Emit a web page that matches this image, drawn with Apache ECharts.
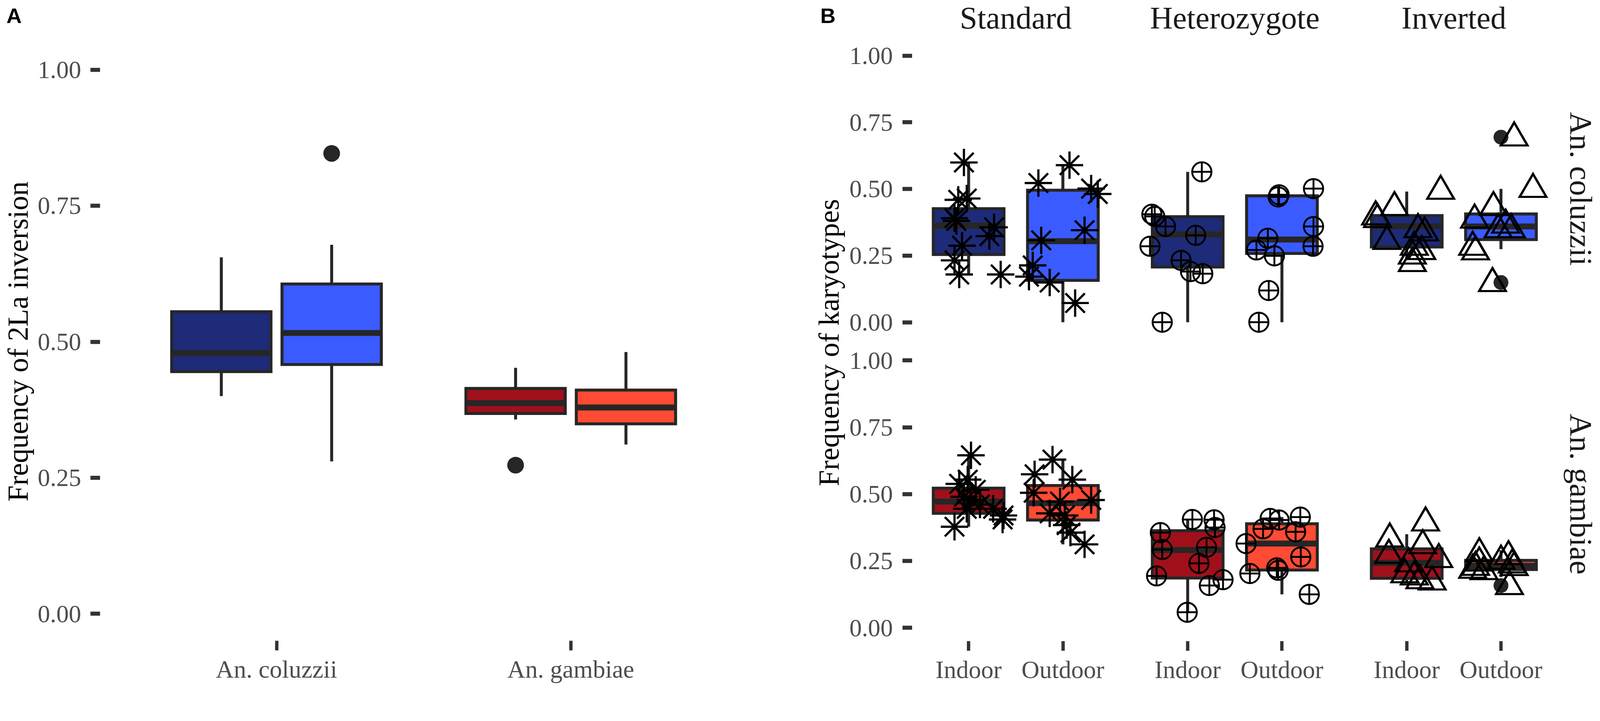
<!DOCTYPE html>
<html>
<head>
<meta charset="utf-8">
<script src="https://cdn.jsdelivr.net/npm/echarts@6/dist/echarts.min.js"></script>
<style>
  html, body { margin: 0; padding: 0; background: #fff; overflow: hidden; }
  #chart { width: 100vw; height: 100vh; }
</style>
</head>
<body>
<div id="chart"></div>
<script>
// ---- data ----
const species = ['An. coluzzii', 'An. gambiae'];
const habitats = ['Indoor', 'Outdoor'];
const karyotypes = ['Standard', 'Heterozygote', 'Inverted'];

// panel A: 2La inversion frequency, [min, q1, median, q3, max] for indoor, outdoor
const boxA_coluzzii = [[0.400, 0.445, 0.479, 0.555, 0.655], [0.280, 0.458, 0.516, 0.606, 0.678]];
const boxA_gambiae = [[0.357, 0.368, 0.387, 0.414, 0.452], [0.311, 0.349, 0.379, 0.411, 0.481]];
const outA_coluzzii = [[], [0.846]];
const outA_gambiae = [[0.273], []];

// panel B: karyotype frequencies, boxes [min, q1, median, q3, max] for indoor, outdoor
const boxB_coluzzii_standard = [[0.179, 0.254, 0.362, 0.426, 0.599], [0.0, 0.157, 0.304, 0.495, 0.589]];
const boxB_coluzzii_het = [[0.0, 0.207, 0.329, 0.396, 0.564], [0.0, 0.258, 0.310, 0.474, 0.480]];
const boxB_coluzzii_inverted = [[0.235, 0.282, 0.360, 0.400, 0.490], [0.274, 0.310, 0.359, 0.406, 0.500]];
const boxB_gambiae_standard = [[0.378, 0.428, 0.472, 0.522, 0.645], [0.312, 0.403, 0.466, 0.532, 0.629]];
const boxB_gambiae_het = [[0.058, 0.186, 0.291, 0.363, 0.405], [0.125, 0.216, 0.315, 0.389, 0.414]];
const boxB_gambiae_inverted = [[0.170, 0.185, 0.243, 0.295, 0.350], [0.190, 0.218, 0.232, 0.252, 0.290]];

// boxplot outliers, indoor / outdoor
const outB_coluzzii_inverted = [[], [0.694, 0.149]];
const outB_gambiae_inverted = [[], [0.158]];

// jittered sample points [jitter, frequency], indoor / outdoor
const ptsB_coluzzii_standard = [
  [[-0.05, 0.599], [-0.11, 0.459], [-0.02, 0.464], [-0.15, 0.390], [-0.13, 0.380], [0.27, 0.356],
   [0.22, 0.323], [-0.07, 0.287], [-0.15, 0.232], [-0.10, 0.179], [0.34, 0.179]],
  [[0.07, 0.589], [-0.26, 0.522], [0.30, 0.501], [0.37, 0.481], [0.23, 0.345], [-0.23, 0.307],
   [-0.32, 0.213], [-0.36, 0.171], [-0.14, 0.149], [0.13, 0.072]]
];
const ptsB_coluzzii_het = [
  [[0.15, 0.564], [-0.38, 0.405], [-0.35, 0.397], [-0.235, 0.359], [0.085, 0.326], [-0.40, 0.285],
   [-0.07, 0.232], [0.03, 0.190], [0.16, 0.182], [-0.27, 0.0]],
  [[0.335, 0.501], [-0.03, 0.478], [-0.04, 0.470], [0.335, 0.359], [-0.15, 0.315], [0.33, 0.285],
   [-0.27, 0.271], [-0.08, 0.249], [-0.14, 0.119], [-0.245, 0.0]]
];
const ptsB_coluzzii_inverted = [
  [[-0.33, 0.410], [-0.31, 0.400], [-0.13, 0.445], [0.36, 0.506], [0.12, 0.362], [0.19, 0.350],
   [-0.21, 0.318], [0.08, 0.296], [0.16, 0.280], [0.06, 0.263], [0.06, 0.235]],
  [[0.14, 0.706], [0.34, 0.513], [-0.08, 0.445], [-0.28, 0.398], [0.05, 0.379], [0.11, 0.362],
   [-0.03, 0.362], [-0.30, 0.296], [-0.27, 0.279], [-0.09, 0.160]]
];
const ptsB_gambiae_standard = [
  [[0.025, 0.645], [-0.01, 0.554], [-0.10, 0.538], [0.075, 0.516], [-0.05, 0.490], [0.02, 0.478],
   [0.12, 0.461], [-0.02, 0.445], [0.26, 0.445], [0.37, 0.420], [0.36, 0.405], [-0.15, 0.378]],
  [[-0.11, 0.629], [-0.30, 0.574], [0.10, 0.554], [-0.31, 0.505], [0.30, 0.478], [-0.03, 0.472],
   [-0.14, 0.428], [0.02, 0.420], [0.04, 0.384], [0.08, 0.356], [0.23, 0.312]]
];
const ptsB_gambiae_het = [
  [[0.05, 0.405], [0.28, 0.404], [0.29, 0.375], [-0.29, 0.356], [-0.27, 0.293], [0.20, 0.301],
   [0.12, 0.241], [-0.33, 0.194], [0.375, 0.180], [0.23, 0.158], [-0.005, 0.058]],
  [[-0.125, 0.409], [-0.03, 0.403], [0.195, 0.414], [-0.20, 0.370], [0.145, 0.359], [-0.38, 0.315],
   [0.20, 0.265], [-0.34, 0.203], [-0.055, 0.224], [-0.04, 0.215], [0.29, 0.125]]
];
const ptsB_gambiae_inverted = [
  [[0.20, 0.407], [-0.18, 0.347], [0.17, 0.322], [-0.19, 0.286], [0.34, 0.270], [0.02, 0.254],
   [-0.02, 0.213], [0.08, 0.205], [0.14, 0.191], [0.27, 0.186]],
  [[-0.23, 0.292], [0.08, 0.281], [0.0, 0.264], [-0.23, 0.257], [-0.27, 0.241], [-0.30, 0.230],
   [0.14, 0.240], [0.09, 0.169], [-0.18, 0.225], [0.12, 0.250]]
];

// ---- sizing: layout numbers are for a 4317x1847 page, scaled to the real viewport ----
const S = Math.min(window.innerWidth / 4317, window.innerHeight / 1847);
const px = v => v * S;

// ---- styling ----
const SERIF = 'Liberation Serif';
const LINE = '#262626';
const fills = {
  'An. coluzzii': ['#1D2B78', '#3A5BFF'],
  'An. gambiae': ['#A0101B', '#FF4B33']
};
// point shapes (R pch 8, 10, 2)
const STAR = 'path://M0,-1L0,1M-1,0L1,0M-0.7071,-0.7071L0.7071,0.7071M-0.7071,0.7071L0.7071,-0.7071';
const CPLUS = 'path://M-1,0A1,1 0 1,0 1,0A1,1 0 1,0 -1,0ZM-1,0L1,0M0,-1L0,1';
const TRI = 'path://M0,-1L0.866,0.5L-0.866,0.5Z';
const shapes = [
  { symbol: STAR, size: [74, 74], width: 6 },
  { symbol: CPLUS, size: [52, 52], width: 5 },
  { symbol: TRI, size: [72, 62], width: 6 }
];

const boxesB = [
  [boxB_coluzzii_standard, boxB_coluzzii_het, boxB_coluzzii_inverted],
  [boxB_gambiae_standard, boxB_gambiae_het, boxB_gambiae_inverted]
];
const ptsB = [
  [ptsB_coluzzii_standard, ptsB_coluzzii_het, ptsB_coluzzii_inverted],
  [ptsB_gambiae_standard, ptsB_gambiae_het, ptsB_gambiae_inverted]
];
const outB = [
  [[[], []], [[], []], outB_coluzzii_inverted],
  [[[], []], [[], []], outB_gambiae_inverted]
];

// ---- layout (grid spans category 0..1 and value 0..1; axes pushed out with offset) ----
const gridA = { left: 746, top: 188, width: 794, height: 1469 };
const colLeft = [2613.5, 3204.5, 3795.5];
const unitB = 254.3;
const rowTop = [150, 973];
const rowH = [720, 722];

const grids = [], xAxes = [], yAxes = [], series = [];

function yAxisFor(gi, offset, showLabels, margin) {
  return {
    type: 'value', gridIndex: gi, min: 0, max: 1, interval: 0.25, offset: px(offset),
    axisLine: { show: false, onZero: false }, splitLine: { show: false },
    axisTick: { show: showLabels, length: px(26), lineStyle: { width: px(11), color: '#333' } },
    axisLabel: {
      show: showLabels, margin: px(margin), formatter: v => v.toFixed(2),
      fontFamily: SERIF, fontSize: px(67), color: '#4D4D4D'
    }
  };
}
function xAxisFor(gi, offset, showLabels, names) {
  return {
    type: 'value', gridIndex: gi, min: 0, max: 1, interval: 1, offset: px(offset),
    axisLine: { show: false, onZero: false }, splitLine: { show: false },
    axisTick: { show: showLabels, length: px(26), lineStyle: { width: px(9), color: '#333' } },
    axisLabel: {
      show: showLabels, margin: px(44), formatter: v => names[Math.round(v)],
      fontFamily: SERIF, fontSize: px(67), color: '#4D4D4D', lineHeight: px(67)
    }
  };
}

function boxSeries(gi, boxes, xs, boxW, colors) {
  return {
    type: 'custom', xAxisIndex: gi, yAxisIndex: gi, clip: false, z: 2, silent: true,
    data: boxes.map((b, h) => [xs[h]].concat(b)),
    encode: { x: 0, y: [1, 2, 3, 4, 5] },
    renderItem: function (params, api) {
      const x = api.value(0);
      const lo = api.coord([x, api.value(1)]);
      const q1 = api.coord([x, api.value(2)]);
      const q3 = api.coord([x, api.value(4)]);
      const hi = api.coord([x, api.value(5)]);
      const tl = api.coord([x - boxW / 2, api.value(4)]);
      const br = api.coord([x + boxW / 2, api.value(2)]);
      const mL = api.coord([x - boxW / 2, api.value(3)]);
      const mR = api.coord([x + boxW / 2, api.value(3)]);
      const ls = { stroke: LINE, lineWidth: px(8) };
      return {
        type: 'group',
        children: [
          { type: 'line', shape: { x1: lo[0], y1: lo[1], x2: q1[0], y2: q1[1] }, style: ls },
          { type: 'line', shape: { x1: q3[0], y1: q3[1], x2: hi[0], y2: hi[1] }, style: ls },
          { type: 'rect', shape: { x: tl[0], y: tl[1], width: br[0] - tl[0], height: br[1] - tl[1] },
            style: { fill: colors[params.dataIndex], stroke: LINE, lineWidth: px(8) } },
          { type: 'line', shape: { x1: mL[0], y1: mL[1], x2: mR[0], y2: mR[1] },
            style: { stroke: LINE, lineWidth: px(16) } }
        ]
      };
    }
  };
}
function outlierSeries(gi, outs, xs, size) {
  const data = [];
  outs.forEach((vals, h) => vals.forEach(v => data.push([xs[h], v])));
  return {
    type: 'scatter', xAxisIndex: gi, yAxisIndex: gi, clip: false, z: 3, silent: true,
    symbol: 'circle', symbolSize: px(size), itemStyle: { color: LINE, opacity: 1 }, data: data
  };
}

// panel A
grids.push({ outerBoundsMode: 'none', left: px(gridA.left), top: px(gridA.top),
  width: px(gridA.width), height: px(gridA.height) });
xAxes.push(xAxisFor(0, 73, true, species));
yAxes.push(yAxisFor(0, 476, true, 51));
[boxA_coluzzii, boxA_gambiae].forEach((boxes, s) => {
  const xs = [s - 0.1875, s + 0.1875];
  series.push(boxSeries(0, boxes, xs, 0.3375, fills[species[s]]));
  series.push(outlierSeries(0, [outA_coluzzii, outA_gambiae][s], xs, 45));
});

// panel B facets
for (let r = 0; r < 2; r++) {
  for (let c = 0; c < 3; c++) {
    const gi = 1 + r * 3 + c;
    grids.push({ outerBoundsMode: 'none', left: px(colLeft[c]), top: px(rowTop[r]),
      width: px(unitB), height: px(rowH[r]) });
    xAxes.push(xAxisFor(gi, 36, r === 1, habitats));
    yAxes.push(yAxisFor(gi, 152.5, c === 0, 52));
    const xs = [0, 1];
    series.push(boxSeries(gi, boxesB[r][c], xs, 0.75, fills[species[r]]));
    series.push(outlierSeries(gi, outB[r][c], xs, 40));
    const shp = shapes[c];
    const data = [];
    ptsB[r][c].forEach((pts, h) => pts.forEach(p => data.push([h + p[0], p[1]])));
    series.push({
      type: 'scatter', xAxisIndex: gi, yAxisIndex: gi, clip: false, z: 4, silent: true,
      symbol: shp.symbol, symbolSize: shp.size.map(px),
      itemStyle: { color: 'transparent', borderColor: '#000', borderWidth: px(shp.width), opacity: 1 },
      data: data
    });
  }
}

// text: panel tags, axis titles, strip labels
const txt = (text, x, y, size, rot, extra) => ({
  type: 'text', x: px(x), y: px(y), rotation: rot || 0, silent: true,
  style: Object.assign({ text: text, align: 'center', verticalAlign: 'middle',
    fontFamily: SERIF, fontSize: px(size), fill: '#000' }, extra || {})
});
const graphics = [
  txt('A', 38, 42, 57, 0, { fontFamily: 'Liberation Sans', fontWeight: 'bold' }),
  txt('B', 2234, 42, 57, 0, { fontFamily: 'Liberation Sans', fontWeight: 'bold' }),
  txt('Frequency of 2La inversion', 48, 922, 78, Math.PI / 2),
  txt('Frequency of karyotypes', 2236, 925, 78, Math.PI / 2)
];
karyotypes.forEach((k, c) => {
  graphics.push(txt(k, colLeft[c] + unitB / 2, 48, 85, 0, { fill: '#1A1A1A' }));
});
species.forEach((s, r) => {
  graphics.push(txt(s, 4266, rowTop[r] - 36 + (rowH[r] * 1.1) / 2, 85, -Math.PI / 2, { fill: '#1A1A1A' }));
});

const chart = echarts.init(document.getElementById('chart'), null, { renderer: 'svg' });
chart.setOption({
  backgroundColor: '#fff',
  animation: false,
  grid: grids,
  xAxis: xAxes,
  yAxis: yAxes,
  series: series,
  graphic: graphics
});
</script>
</body>
</html>
